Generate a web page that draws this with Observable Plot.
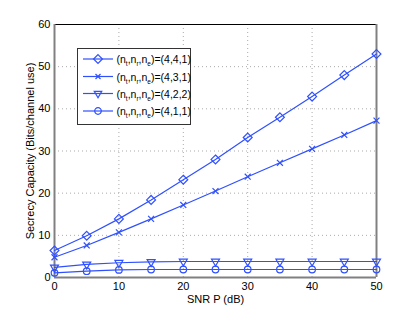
<!DOCTYPE html>
<html><head><meta charset="utf-8">
<script src="https://cdn.jsdelivr.net/npm/d3@7"></script>
<script src="https://cdn.jsdelivr.net/npm/@observablehq/plot@0.6"></script>
<style>body{margin:0;background:#fff;font-family:"Liberation Sans",Arial,sans-serif}</style>
</head><body><div id="chart"></div>
<script>
const snr = [0, 5, 10, 15, 20, 25, 30, 35, 40, 45, 50];
const c441 = [6.4, 9.9, 13.9, 18.4, 23.2, 28.0, 33.2, 38.0, 42.9, 48.0, 53.0];
const c431 = [4.8, 7.6, 10.7, 13.9, 17.2, 20.5, 23.9, 27.2, 30.5, 33.8, 37.2];
const c422 = [2.4, 3.1, 3.5, 3.7, 3.8, 3.8, 3.8, 3.8, 3.8, 3.8, 3.8];
const c411 = [1.1, 1.5, 1.8, 1.9, 1.9, 1.9, 1.9, 1.9, 1.9, 1.9, 1.9];
const seriesNames = ["(4,4,1)", "(4,3,1)", "(4,2,2)", "(4,1,1)"];
const xTicks = [0, 10, 20, 30, 40, 50];
const yTicks = [0, 10, 20, 30, 40, 50, 60];
const blue = "#2f50ff";

const rows = [];
[c441, c431, c422, c411].forEach((arr, i) => arr.forEach((v, j) => rows.push({s: seriesNames[i], x: snr[j], y: v})));
const sub = n => rows.filter(d => d.s === n);

const chart = Plot.plot({
  width: 415, height: 313,
  marginLeft: 54, marginRight: 39, marginTop: 24, marginBottom: 36,
  style: {fontFamily: "Liberation Sans, Arial, sans-serif", fontSize: "11px", color: "#000"},
  x: {domain: [0, 50], ticks: xTicks, tickSize: 0, tickPadding: 5, label: null},
  y: {domain: [0, 60], ticks: yTicks, tickSize: 0, tickPadding: 4, label: null},
  marks: [
    Plot.gridX(xTicks, {stroke: "#aaa", strokeOpacity: 1, strokeDasharray: "1,3"}),
    Plot.gridY(yTicks, {stroke: "#aaa", strokeOpacity: 1, strokeDasharray: "1,3"}),
    Plot.ruleY([60], {stroke: "#000", strokeWidth: 1}),
    Plot.ruleX([0, 50], {stroke: "#808080", strokeWidth: 2}),
    Plot.ruleY([0], {stroke: "#808080", strokeWidth: 2}),
    Plot.axisX({ticks: xTicks, tickSize: 0, tickPadding: 5, label: null}),
    Plot.axisY({ticks: yTicks, tickSize: 0, tickPadding: 4, label: null}),
    ...seriesNames.map(n => Plot.line(sub(n), {x: "x", y: "y", stroke: blue, strokeWidth: 1.2})),
    Plot.dot(sub(seriesNames[0]), {x: "x", y: "y", symbol: "diamond2", r: 4, stroke: blue, fill: "none", strokeWidth: 1.2}),
    Plot.dot(sub(seriesNames[1]), {x: "x", y: "y", symbol: "times", r: 2.8, stroke: blue, strokeWidth: 1.2}),
    Plot.dot(sub(seriesNames[2]), {x: "x", y: "y", symbol: "triangle2", rotate: 180, r: 3.8, stroke: blue, fill: "none", strokeWidth: 1.2}),
    Plot.dot(sub(seriesNames[3]), {x: "x", y: "y", symbol: "circle", r: 3.3, stroke: blue, fill: "none", strokeWidth: 1.2}),
    Plot.text(["SNR P (dB)"], {frameAnchor: "bottom", dy: 25, fontSize: 11, fill: "#000", textAnchor: "middle"}),
    Plot.text(["Secrecy Capacity (Bits/channel use)"], {frameAnchor: "left", dx: -24, rotate: -90, fontSize: 11, fill: "#000", textAnchor: "middle"})
  ]
});
document.getElementById("chart").appendChild(chart);

// Legend inside the axes
const svg = d3.select(chart);
const lg = svg.append("g").attr("text-anchor", "start");
lg.append("rect").attr("x", 77.5).attr("y", 48.5).attr("width", 113).attr("height", 76)
  .attr("fill", "#fff").attr("stroke", "#333").attr("stroke-width", 1);
const symbols = [d3.symbolDiamond2, d3.symbolTimes, d3.symbolTriangle2, d3.symbolCircle];
const sizes = [50, 18, 40, 34];
const ys = [59, 76.5, 93.5, 111];
seriesNames.forEach((n, i) => {
  const g = lg.append("g").attr("transform", `translate(0,${ys[i]})`);
  g.append("line").attr("x1", 83).attr("x2", 113).attr("y1", 0).attr("y2", 0).attr("stroke", blue).attr("stroke-width", 1.2);
  g.append("path").attr("d", d3.symbol(symbols[i], sizes[i])()).attr("transform", `translate(98,0)${i === 2 ? " rotate(180)" : ""}`)
    .attr("fill", "none").attr("stroke", blue).attr("stroke-width", 1.2);
  const t = g.append("text").attr("x", 116.5).attr("y", 4).attr("font-size", 10.5).attr("fill", "#000").attr("text-anchor", "start");
  t.append("tspan").text("(n");
  t.append("tspan").attr("font-size", 6.5).attr("dy", 3).text("t");
  t.append("tspan").attr("dy", -3).text(",n");
  t.append("tspan").attr("font-size", 6.5).attr("dy", 3).text("r");
  t.append("tspan").attr("dy", -3).text(",n");
  t.append("tspan").attr("font-size", 6.5).attr("dy", 3).text("e");
  t.append("tspan").attr("dy", -3).text(")=" + n);
});
</script></body></html>
